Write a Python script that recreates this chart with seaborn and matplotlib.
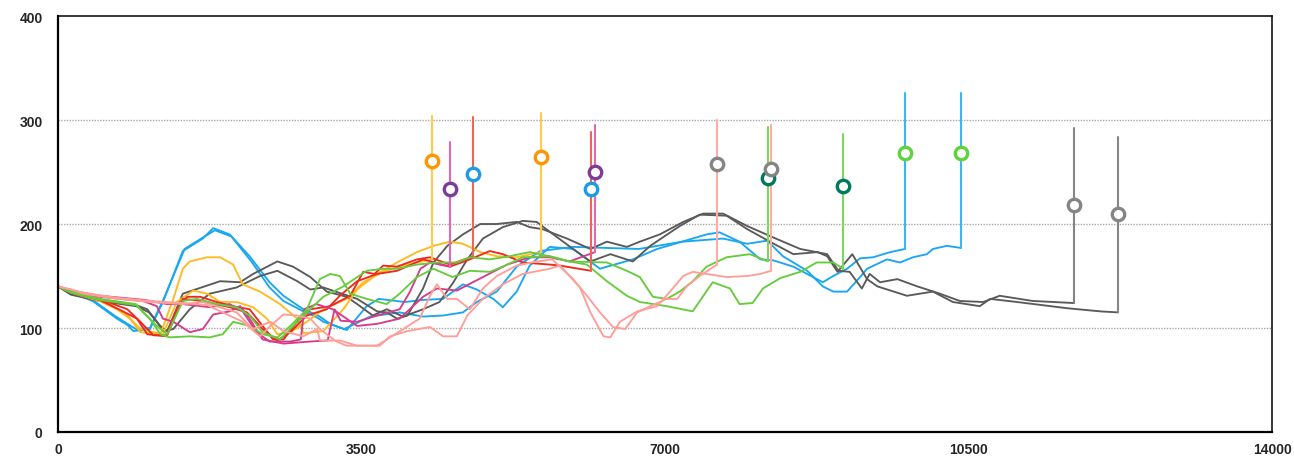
import matplotlib
matplotlib.use("Agg")
import matplotlib.pyplot as plt
import numpy as np
import pandas as pd
import seaborn as sns

# ---- series traces (x, value) ----
blue_a_x = [0, 150, 400, 680, 800, 870, 1060, 1210, 1440, 1670, 1790, 1980, 2210, 2440, 2600, 2830, 3000, 3140, 3330, 3560, 3700, 4000, 4210, 4440, 4670, 4830, 5020, 5130, 5290, 5440, 5670, 5940, 6250, 6630, 6910, 7480, 7630, 7860, 8100, 8250, 8480, 8820, 8940, 9100, 9250, 9400, 9600, 9768]
blue_a_y = [140, 134, 126, 109, 103, 97, 99, 125, 174, 186, 196, 190, 169, 144, 131, 118, 112, 104, 98, 121, 128, 125, 127, 128, 142, 137, 128, 120, 135, 160, 178, 176, 157, 166, 176, 190, 192, 183, 166, 165, 159, 144, 150, 157, 167, 168, 173, 176]

blue_b_x = [0, 150, 400, 650, 800, 900, 1060, 1230, 1460, 1690, 1810, 2000, 2230, 2440, 2600, 2830, 2990, 3060, 3300, 3600, 3940, 4210, 4440, 4670, 4830, 5060, 5290, 5560, 5940, 6700, 7200, 7670, 7950, 8180, 8360, 8640, 8820, 8940, 9100, 9250, 9330, 9560, 9710, 9860, 10020, 10090, 10250, 10413]
blue_b_y = [140, 135, 127, 112, 104, 99, 100, 130, 176, 188, 194, 188, 164, 139, 126, 116, 110, 106, 99, 111, 115, 111, 112, 115, 125, 135, 159, 174, 178, 176, 183, 186, 181, 184, 169, 155, 140, 135, 135, 149, 157, 166, 163, 168, 171, 176, 179, 177]

grey_a_x = [0, 150, 480, 900, 1030, 1140, 1210, 1330, 1520, 1750, 2060, 2330, 2530, 2760, 2910, 3060, 3450, 3680, 3790, 3910, 4030, 4210, 4330, 4490, 4670, 4870, 5060, 5290, 5440, 5590, 5870, 6140, 6330, 6560, 6710, 6940, 7210, 7440, 7670, 7950, 8250, 8560, 8870, 9000, 9130, 9270, 9360, 9480, 9680, 9910, 10170, 10400, 10670, 10860, 11240, 11717]
grey_a_y = [140, 133, 127, 122, 118, 106, 97, 99, 118, 133, 139, 150, 155, 145, 137, 139, 128, 116, 115, 109, 112, 138, 163, 179, 190, 200, 200, 202, 197, 195, 186, 176, 183, 178, 183, 190, 202, 210, 210, 198, 187, 176, 171, 155, 154, 138, 152, 144, 147, 140, 133, 126, 125, 131, 126, 124]

grey_b_x = [0, 150, 480, 900, 1050, 1180, 1260, 1440, 1870, 2100, 2250, 2530, 2710, 2910, 3100, 3330, 3450, 3630, 3790, 3980, 4210, 4400, 4560, 4720, 4900, 5130, 5360, 5520, 5680, 5940, 6140, 6370, 6630, 6830, 7170, 7400, 7710, 7950, 8210, 8480, 8760, 8870, 8990, 9160, 9330, 9450, 9790, 10090, 10320, 10630, 10750, 11060, 11640, 12020, 12224]
grey_b_y = [140, 132, 126, 121, 115, 102, 97, 133, 145, 144, 152, 164, 159, 149, 135, 130, 123, 112, 118, 111, 118, 125, 144, 166, 186, 197, 203, 202, 192, 176, 164, 171, 164, 179, 198, 209, 208, 195, 183, 171, 173, 169, 154, 171, 147, 140, 131, 135, 125, 121, 128, 125, 119, 116, 115]

yellow_a_x = [0, 150, 560, 800, 950, 1210, 1370, 1560, 1720, 1870, 2060, 2250, 2410, 2530, 2680, 2870, 3060, 3330, 3520, 3750, 3980, 4140, 4313]
yellow_a_y = [140, 135, 125, 112, 99, 94, 125, 136, 133, 125, 125, 120, 109, 94, 96, 106, 118, 128, 144, 154, 160, 163, 166]

yellow_b_x = [0, 150, 480, 680, 830, 950, 1180, 1330, 1440, 1520, 1720, 1870, 2020, 2130, 2330, 2560, 2760, 2830, 3060, 3290, 3450, 3680, 3910, 4140, 4330, 4520, 4670, 4870, 5060, 5290, 5570]
yellow_b_y = [140, 134, 126, 118, 109, 96, 94, 128, 157, 164, 168, 168, 161, 142, 135, 123, 109, 95, 97, 118, 137, 152, 163, 173, 179, 183, 181, 173, 169, 168, 173]

red_a_x = [0, 150, 480, 750, 910, 1030, 1250, 1370, 1490, 1640, 1830, 2020, 2210, 2360, 2480, 2600, 2760, 2910, 3140, 3370, 3520, 3650, 3750, 3910, 4140, 4290, 4520, 4786]
red_a_y = [140, 134, 127, 116, 109, 94, 92, 118, 130, 130, 125, 121, 118, 102, 89, 89, 106, 118, 121, 131, 154, 152, 160, 159, 166, 168, 161, 169]

red_b_x = [0, 150, 480, 800, 950, 1100, 1260, 1440, 1670, 1980, 2180, 2360, 2530, 2680, 2870, 3100, 3250, 3450, 3680, 3910, 4210, 4520, 4750, 4980, 5130, 5360, 5670, 5790, 6147]
red_b_y = [140, 135, 128, 118, 106, 93, 93, 128, 126, 120, 115, 99, 88, 96, 112, 118, 131, 145, 152, 155, 166, 159, 166, 174, 171, 163, 161, 160, 155]

pink_a_x = [0, 150, 480, 980, 1140, 1210, 1330, 1520, 1670, 1790, 1980, 2100, 2210, 2360, 2600, 2910, 3110, 3190, 3260, 3450, 3680, 3940, 4060, 4180, 4290, 4400, 4520]
pink_a_y = [140, 135, 130, 126, 121, 109, 106, 96, 99, 113, 116, 121, 109, 89, 85, 87, 88, 118, 107, 106, 112, 118, 135, 157, 163, 161, 159]

pink_b_x = [0, 150, 480, 1000, 1260, 1440, 1750, 1980, 2130, 2290, 2440, 2680, 2800, 2840, 2980, 3170, 3450, 3680, 3940, 4210, 4370, 4600, 4900, 5180, 5440, 5670, 5900, 6193]
pink_b_y = [140, 136, 131, 127, 123, 123, 120, 123, 116, 96, 87, 87, 89, 118, 123, 118, 102, 104, 109, 130, 138, 136, 149, 161, 168, 168, 164, 173]

green_a_x = [0, 150, 480, 900, 950, 1060, 1180, 1290, 1520, 1750, 1900, 2020, 2210, 2360, 2530, 2680, 2870, 3020, 3140, 3250, 3370, 3560, 3790, 3940, 4140, 4330, 4550, 4750, 4980, 5130, 5360, 5670, 5900, 6330, 6560, 6710, 6860, 7020, 7170, 7320, 7480, 7710, 7980, 8188]
green_a_y = [140, 134, 127, 122, 118, 109, 94, 91, 92, 91, 94, 106, 102, 94, 91, 102, 118, 147, 152, 150, 133, 128, 123, 133, 149, 157, 149, 155, 154, 159, 168, 169, 164, 163, 155, 149, 130, 128, 135, 145, 159, 168, 171, 164]

green_b_x = [0, 150, 480, 900, 980, 1140, 1260, 1440, 1600, 1830, 2060, 2210, 2360, 2560, 2830, 3060, 3290, 3560, 3750, 3910, 4140, 4370, 4600, 4750, 4980, 5210, 5440, 5670, 5900, 6100, 6330, 6560, 6710, 7020, 7320, 7550, 7750, 7860, 8010, 8130, 8330, 8560, 8750, 8940, 9053]
green_b_y = [140, 135, 128, 123, 115, 102, 94, 126, 128, 123, 120, 112, 96, 89, 112, 130, 140, 155, 157, 157, 161, 163, 163, 168, 166, 169, 173, 169, 164, 161, 145, 131, 125, 121, 116, 144, 138, 123, 124, 138, 148, 154, 163, 163, 157]

salmon_a_x = [0, 150, 290, 680, 1060, 1440, 1670, 2060, 2250, 2450, 2600, 2830, 2990, 3020, 3250, 3450, 3680, 4170, 4290, 4370, 4490, 4600, 4750, 4900, 5060, 5290, 5520, 5700, 5940, 6100, 6250, 6400, 6540, 6680, 6830, 7020, 7140, 7250, 7400, 7600]
salmon_a_y = [140, 137, 133, 128, 125, 123, 125, 115, 99, 106, 97, 92, 99, 88, 88, 83, 83, 109, 131, 142, 128, 128, 118, 138, 150, 160, 164, 166, 147, 131, 115, 101, 99, 115, 121, 128, 128, 140, 150, 161]

salmon_b_x = [0, 150, 290, 680, 1060, 1440, 1720, 1900, 2130, 2330, 2450, 2600, 2760, 2910, 3020, 3210, 3330, 3710, 3830, 4030, 4290, 4440, 4600, 4720, 4900, 5130, 5360, 5670, 5790, 6020, 6140, 6290, 6370, 6480, 6680, 6910, 7090, 7210, 7320, 7480, 7710, 7950, 8100, 8225]
salmon_b_y = [140, 137, 134, 129, 126, 124, 122, 115, 106, 92, 102, 113, 112, 109, 99, 87, 83, 83, 92, 97, 101, 92, 92, 112, 128, 142, 152, 157, 160, 139, 115, 92, 91, 106, 116, 121, 138, 150, 154, 152, 149, 150, 152, 155]

# ---- per-series end spikes and markers ----
series_names = ["yellow_a", "pink_a", "red_a", "yellow_b", "red_b", "pink_b", "salmon_a",
                "green_a", "salmon_b", "green_b", "blue_a", "blue_b", "grey_a", "grey_b"]
spike_top = [304, 279, 303, 307, 288, 295, 300, 293, 295, 287, 326, 326, 292, 284]
marker_value = [261, 234, 248, 264, 234, 250, 258, 244, 253, 237, 268, 268, 218, 210]
marker_group = ["orange", "purple", "blue", "orange", "blue", "purple", "grey",
                "teal", "grey", "teal", "green", "green", "grey", "grey"]

traces = {
    "blue_a": (blue_a_x, blue_a_y), "blue_b": (blue_b_x, blue_b_y),
    "grey_a": (grey_a_x, grey_a_y), "grey_b": (grey_b_x, grey_b_y),
    "yellow_a": (yellow_a_x, yellow_a_y), "yellow_b": (yellow_b_x, yellow_b_y),
    "red_a": (red_a_x, red_a_y), "red_b": (red_b_x, red_b_y),
    "pink_a": (pink_a_x, pink_a_y), "pink_b": (pink_b_x, pink_b_y),
    "green_a": (green_a_x, green_a_y), "green_b": (green_b_x, green_b_y),
    "salmon_a": (salmon_a_x, salmon_a_y), "salmon_b": (salmon_b_x, salmon_b_y),
}

line_col = {"blue": "#1AA7F0", "grey": "#5A5A5A", "yellow": "#FFBA1F", "red": "#EE2A1E",
            "pink": "#D43C8C", "green": "#66CC3D", "salmon": "#FF9E98"}
spike_col = {"blue": "#3DB5F5", "grey": "#858585", "yellow": "#FFCB4A", "red": "#F0625A",
             "pink": "#E06AAE", "green": "#7ED65A", "salmon": "#FFABA6"}
marker_col = {"orange": "#FF9500", "purple": "#7D3C98", "blue": "#1E9BE6",
              "grey": "#858585", "teal": "#00795C", "green": "#5FD43A"}

rows = []
for name, (xs, ys) in traces.items():
    for x, y in zip(xs, ys):
        rows.append((name, x, y))
df = pd.DataFrame(rows, columns=["series", "x", "value"])
palette = {n: line_col[n.split("_")[0]] for n in traces}

sns.set_style("white")
plt.rcParams["font.family"] = ["Liberation Sans", "DejaVu Sans"]

fig = plt.figure(figsize=(12.94, 4.6), dpi=100)
ax = fig.add_axes([0.0448, 0.0587, 0.9382, 0.9043])

for v in [100, 200, 300]:
    ax.axhline(v, color="#A8A8A8", lw=1.0, ls=(0, (1, 1)), zorder=0)

sns.lineplot(data=df, x="x", y="value", hue="series", palette=palette, sort=False,
             estimator=None, lw=1.35, legend=False, ax=ax)

# end spikes and hollow markers
for name, top, mv, mg in zip(series_names, spike_top, marker_value, marker_group):
    xs, ys = traces[name]
    fam = name.split("_")[0]
    ax.plot([xs[-1], xs[-1]], [ys[-1], top], color=spike_col[fam], lw=1.5, zorder=3)
    ax.scatter([xs[-1]], [mv], s=80, facecolors="white", edgecolors=marker_col[mg],
               linewidths=2.4, zorder=5)

ax.set_xlim(0, 14000)
ax.set_ylim(0, 400)
ax.set_xticks([0, 3500, 7000, 10500, 14000])
ax.set_yticks([0, 100, 200, 300, 400])
ax.set_xlabel("")
ax.set_ylabel("")
ax.tick_params(axis="y", length=0, pad=11, labelsize=10)
ax.tick_params(axis="x", length=3, width=2, direction="inout", pad=6, labelsize=10)
for lab in ax.get_xticklabels() + ax.get_yticklabels():
    lab.set_fontweight("bold")

for side in ["left", "bottom"]:
    ax.spines[side].set_linewidth(1.6)
for side in ["top", "right"]:
    ax.spines[side].set_linewidth(1.1)
for s in ax.spines.values():
    s.set_color("black")

fig.savefig("out.png", dpi=100)
